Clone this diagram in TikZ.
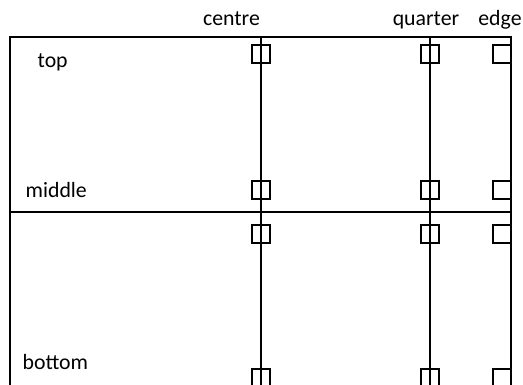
\documentclass[tikz,border=0pt]{standalone}
\usepackage{fontspec}
\setmainfont{Carlito}

\tikzset{pad/.style={draw,line width=1.2pt,minimum size=18pt,inner sep=0pt},
  lab/.style={font=\fontsize{21.8}{26}\selectfont,inner sep=0pt}}

\begin{document}
\begin{tikzpicture}[x=1pt,y=-1pt,line width=1.3pt]
\useasboundingbox (0,0) rectangle (523,384);

% frame and the two rows
\coordinate (tl) at (10,37);
\coordinate (tr) at (511,37);
\coordinate (bl) at (10,400);
\coordinate (br) at (511,400);
\draw (bl) -- (tl) -- (tr) -- (br);
\coordinate (ml) at (10,212);
\coordinate (mr) at (511,212);
\draw (ml) -- (mr);

% the centre and quarter lines
\coordinate (ct) at (261,37);
\coordinate (cb) at (261,400);
\coordinate (qt) at (430,37);
\coordinate (qb) at (430,400);
\draw (ct) -- (cb);
\draw (qt) -- (qb);

% pads
\foreach \r/\y in {a/54,b/190,c/234,d/378}{
  \node[pad] (c\r) at (261,\y) {};
  \node[pad] (q\r) at (430,\y) {};
  \node[pad] (e\r) at (502,\y) {};
}

\node[lab,anchor=base] (centre) at (231.5,25) {centre};
\node[lab,anchor=base] (quarter) at (426,25) {quarter};
\node[lab,anchor=base] (edge) at (500,25) {edge};

\node[lab,anchor=base west] (top) at (37,67) {top};
\node[lab,anchor=base west] (middle) at (25,197) {middle};
\node[lab,anchor=base west] (bottom) at (22,369) {bottom};
\end{tikzpicture}
\end{document}
